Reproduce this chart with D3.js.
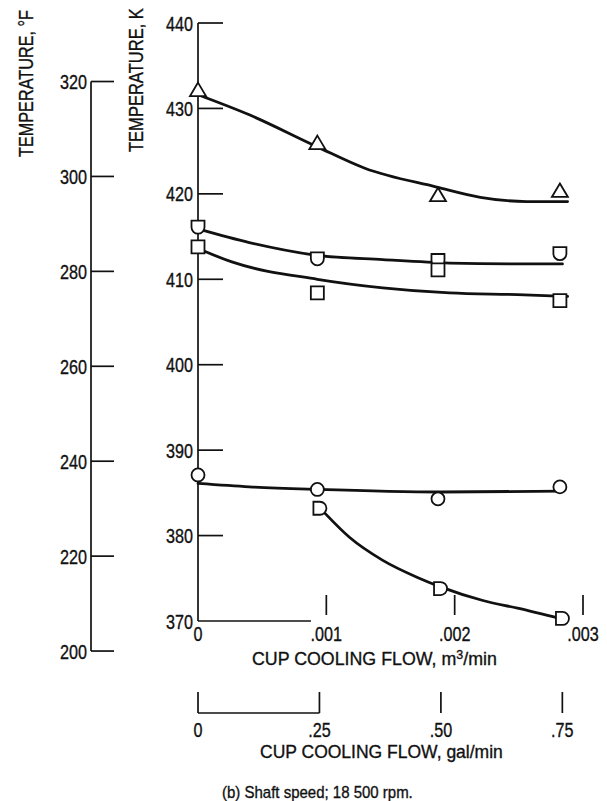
<!DOCTYPE html>
<html>
<head>
<meta charset="utf-8">
<script src="https://cdn.jsdelivr.net/npm/d3@7"></script>
<style>
  html, body { margin: 0; padding: 0; background: #fff; }
  svg text { font-family: "Liberation Sans", Arial, sans-serif; fill: #111; stroke: #111; stroke-width: 0.35px; }
</style>
</head>
<body>
<svg id="chart" width="607" height="801"></svg>
<script>
// Axis ticks
const kTicks = [370, 380, 390, 400, 410, 420, 430, 440];
const fTicks = [200, 220, 240, 260, 280, 300, 320];
const m3Ticks = [0, 0.001, 0.002, 0.003];
const m3Labels = ["0", ".001", ".002", ".003"];
const galTicks = [0, 0.25, 0.5, 0.75];
const galLabels = ["0", ".25", ".50", ".75"];

// Measured points (flow in m^3/min, temperature in K)
const flowPts = [0, 0.00093, 0.00187, 0.00282];
const triangleK = [432.2, 426.0, 419.9, 420.4];
const cupK = [416.1, 412.4, 412.2, 413.0];
const squareK = [413.8, 408.4, 411.1, 407.5];
const circleK = [387.1, 385.4, 384.3, 385.7];
const dFlow = [0.00095, 0.00189, 0.00284];
const dK = [383.2, 373.8, 370.3];

// Faired curves (flow, K)
const triangleCurve = [[0, 431.6], [0.0004, 429.25], [0.00093, 425.5], [0.0013, 423.0], [0.00186, 420.8], [0.0022, 419.6], [0.00256, 419.1], [0.00288, 419.1]];
const cupCurve = [[0, 415.9], [0.0004, 414.3], [0.00093, 412.8], [0.00144, 412.3], [0.00196, 411.9], [0.00249, 411.8], [0.00284, 411.8]];
const squareCurve = [[0, 413.6], [0.00027, 412.0], [0.00093, 410.0], [0.00144, 409.0], [0.00196, 408.4], [0.00249, 408.2], [0.00288, 408.0]];
const circleCurve = [[0, 386.1], [0.0004, 385.7], [0.00093, 385.4], [0.00189, 385.1], [0.00284, 385.2]];
const dCurve = [[0.00099, 382.6], [0.00118, 379.8], [0.00144, 377.1], [0.00171, 375.1], [0.00189, 374.0], [0.00222, 372.4], [0.00249, 371.5], [0.00282, 370.3]];

const GAL_TO_M3 = 0.00378541;
const kToF = f => (f - 32) * 5 / 9 + 273.15;

const svg = d3.select("#chart");
const x = d3.scaleLinear().domain([0, 0.003]).range([198, 583]);
const y = d3.scaleLinear().domain([370, 440]).range([621, 23]);

const ink = "#111";
const axisW = 1.7;

// Condensed text: draws a label and squeezes it horizontally, either by a
// fixed factor or so that it spans a given width.
function label(parent, px, py, str, o) {
  const g = parent.append("g")
    .attr("transform", `translate(${px},${py})` + (o.rotate ? " rotate(-90)" : ""));
  const t = g.append("text").attr("font-size", o.size).attr("text-anchor", o.anchor || "start");
  if (o.dy) t.attr("dy", o.dy);
  if (typeof str === "function") str(t); else t.text(str);
  const s = o.width ? o.width / t.node().getComputedTextLength() : (o.sx || 0.77);
  t.attr("transform", `scale(${s},1)`);
  return t;
}

// ---- Kelvin axis ----
const gK = svg.append("g");
gK.append("line").attr("x1", x(0)).attr("x2", x(0)).attr("y1", y(440)).attr("y2", y(370))
  .attr("stroke", ink).attr("stroke-width", axisW);
gK.selectAll("line.t").data(kTicks.filter(d => d > 370)).join("line").attr("class", "t")
  .attr("x1", x(0)).attr("x2", x(0) + 25).attr("y1", d => y(d)).attr("y2", d => y(d))
  .attr("stroke", ink).attr("stroke-width", axisW);
kTicks.forEach(d => label(gK, 193, y(d), String(d), { size: 21, anchor: "end", dy: "0.36em" }));

// ---- Fahrenheit axis ----
const gF = svg.append("g");
gF.append("line").attr("x1", 91).attr("x2", 91)
  .attr("y1", y(kToF(320))).attr("y2", y(kToF(200)))
  .attr("stroke", ink).attr("stroke-width", axisW);
gF.selectAll("line.t").data(fTicks).join("line").attr("class", "t")
  .attr("x1", 91).attr("x2", 114).attr("y1", d => y(kToF(d))).attr("y2", d => y(kToF(d)))
  .attr("stroke", ink).attr("stroke-width", axisW);
fTicks.forEach(d => label(gF, 87, y(kToF(d)), String(d), { size: 21, anchor: "end", dy: "0.36em" }));

// Axis titles (rotated)
label(svg, 33, 157, "TEMPERATURE, °F", { size: 20.5, rotate: true, width: 147 });
label(svg, 143, 152, "TEMPERATURE, K", { size: 20.5, rotate: true, width: 144 });

// ---- m^3/min axis ----
const gX = svg.append("g");
gX.append("line").attr("x1", x(0)).attr("x2", x(0.00088)).attr("y1", y(370)).attr("y2", y(370))
  .attr("stroke", ink).attr("stroke-width", axisW);
gX.selectAll("line.t").data(m3Ticks.slice(1)).join("line").attr("class", "t")
  .attr("x1", d => x(d)).attr("x2", d => x(d)).attr("y1", 595).attr("y2", 615)
  .attr("stroke", ink).attr("stroke-width", axisW);
m3Ticks.forEach((d, i) => label(gX, x(d), 641, m3Labels[i], { size: 21, anchor: "middle" }));
label(svg, 252, 665, t => {
  t.append("tspan").text("CUP COOLING FLOW,  m");
  t.append("tspan").attr("dy", -6).attr("font-size", 13).text("3");
  t.append("tspan").attr("dy", 6).text("/min");
}, { size: 18.5, width: 245 });

// ---- gal/min axis ----
const gG = svg.append("g");
const xg = d => x(d * GAL_TO_M3);
gG.append("line").attr("x1", xg(0)).attr("x2", xg(0.25)).attr("y1", 713).attr("y2", 713)
  .attr("stroke", ink).attr("stroke-width", axisW);
gG.selectAll("line.t").data(galTicks).join("line").attr("class", "t")
  .attr("x1", d => xg(d)).attr("x2", d => xg(d)).attr("y1", 692).attr("y2", 713)
  .attr("stroke", ink).attr("stroke-width", axisW);
galTicks.forEach((d, i) => label(gG, xg(d), 737, galLabels[i], { size: 21, anchor: "middle" }));
label(svg, 260, 758, "CUP COOLING FLOW, gal/min", { size: 18.5, width: 243 });

label(svg, 222, 798, "(b) Shaft speed; 18 500 rpm.", { size: 17, width: 191 });

// ---- curves ----
const line = d3.line().x(d => x(d[0])).y(d => y(d[1])).curve(d3.curveMonotoneX);
const curves = [triangleCurve, cupCurve, squareCurve, circleCurve, dCurve];
svg.append("g").selectAll("path").data(curves).join("path")
  .attr("d", line).attr("fill", "none").attr("stroke", ink).attr("stroke-width", 2.8)
  .attr("stroke-linejoin", "round").attr("stroke-linecap", "round");

// ---- symbols ----
const shapes = {
  triangle: "M0,-7 L8,6.5 L-8,6.5 Z",
  cup: "M-6.5,-6.5 H6.5 V0 A6.5,6.5 0 0 1 -6.5,0 Z",
  square: "M-6.5,-6.5 H6.5 V6.5 H-6.5 Z",
  circle: "M6.5,0 A6.5,6.5 0 1 1 -6.5,0 A6.5,6.5 0 1 1 6.5,0 Z",
  dee: "M-6.5,-6.5 H0 A6.5,6.5 0 0 1 0,6.5 H-6.5 Z"
};
const series = [
  { shape: "triangle", flow: flowPts, temp: triangleK },
  { shape: "cup", flow: flowPts, temp: cupK },
  { shape: "square", flow: flowPts, temp: squareK },
  { shape: "circle", flow: flowPts, temp: circleK },
  { shape: "dee", flow: dFlow, temp: dK }
];
series.forEach(s => {
  svg.append("g").selectAll("path").data(s.flow.map((f, i) => [f, s.temp[i]])).join("path")
    .attr("transform", d => `translate(${x(d[0])},${y(d[1])})`)
    .attr("d", shapes[s.shape]).attr("fill", "#fff").attr("stroke", ink).attr("stroke-width", 1.8);
});
</script>
</body>
</html>
